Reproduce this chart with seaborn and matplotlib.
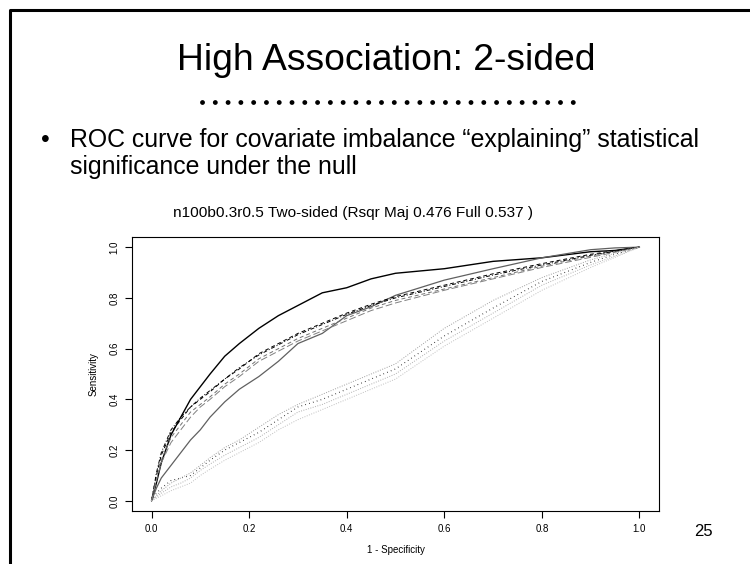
import matplotlib
matplotlib.use("Agg")
import matplotlib.pyplot as plt
import seaborn as sns
from matplotlib.lines import Line2D

# false positive rate grid the curves were read at
fpr = [0, 0.01, 0.02, 0.04, 0.06, 0.08, 0.1, 0.12, 0.15, 0.18, 0.22, 0.26,
       0.3, 0.35, 0.4, 0.45, 0.5, 0.6, 0.7, 0.8, 0.9, 0.95, 1.0]

# solid curves
full_black = [0, 0.07, 0.15, 0.26, 0.33, 0.40, 0.45, 0.50, 0.57, 0.62, 0.68, 0.73,
              0.77, 0.82, 0.84, 0.875, 0.897, 0.915, 0.944, 0.958, 0.982, 0.987, 1.0]
maj_gray = [0, 0.05, 0.09, 0.14, 0.19, 0.24, 0.28, 0.33, 0.39, 0.44, 0.49, 0.55,
            0.62, 0.66, 0.73, 0.765, 0.81, 0.87, 0.915, 0.958, 0.99, 0.997, 1.0]

# dashed / dot-dash curves
dash_black = [0, 0.10, 0.18, 0.27, 0.32, 0.37, 0.40, 0.43, 0.48, 0.52, 0.58, 0.62,
              0.66, 0.70, 0.74, 0.775, 0.805, 0.85, 0.895, 0.935, 0.972, 0.986, 1.0]
dash_gray = [0, 0.09, 0.16, 0.25, 0.30, 0.35, 0.38, 0.41, 0.46, 0.50, 0.56, 0.60,
             0.64, 0.68, 0.72, 0.76, 0.79, 0.835, 0.88, 0.925, 0.965, 0.983, 1.0]
dotdash_black = [0, 0.11, 0.19, 0.28, 0.33, 0.37, 0.405, 0.435, 0.48, 0.525, 0.575, 0.615,
                 0.655, 0.695, 0.735, 0.77, 0.80, 0.845, 0.89, 0.93, 0.968, 0.984, 1.0]
longdash_gray = [0, 0.08, 0.15, 0.23, 0.28, 0.33, 0.37, 0.40, 0.45, 0.49, 0.55, 0.59,
                 0.63, 0.67, 0.71, 0.75, 0.78, 0.83, 0.875, 0.92, 0.96, 0.98, 1.0]

# dotted curves
dot_black = [0, 0.03, 0.05, 0.08, 0.09, 0.10, 0.13, 0.16, 0.20, 0.23, 0.27, 0.32,
             0.37, 0.40, 0.44, 0.48, 0.52, 0.65, 0.76, 0.865, 0.94, 0.972, 1.0]
dot_gray1 = [0, 0.02, 0.04, 0.07, 0.09, 0.11, 0.14, 0.17, 0.21, 0.24, 0.29, 0.34,
             0.38, 0.42, 0.46, 0.50, 0.54, 0.68, 0.79, 0.88, 0.95, 0.976, 1.0]
dot_gray2 = [0, 0.015, 0.03, 0.055, 0.07, 0.09, 0.12, 0.145, 0.18, 0.21, 0.25, 0.30,
             0.35, 0.38, 0.42, 0.46, 0.50, 0.63, 0.74, 0.85, 0.93, 0.965, 1.0]
dot_gray3 = [0, 0.01, 0.02, 0.04, 0.055, 0.07, 0.10, 0.125, 0.16, 0.19, 0.23, 0.28,
             0.32, 0.36, 0.40, 0.44, 0.48, 0.61, 0.72, 0.83, 0.92, 0.96, 1.0]

ticks = [0.0, 0.2, 0.4, 0.6, 0.8, 1.0]
tick_labels = ["0.0", "0.2", "0.4", "0.6", "0.8", "1.0"]

sns.set_style("ticks")
plt.rcParams['font.family'] = ['Liberation Sans', 'DejaVu Sans']
plt.rcParams['text.color'] = 'black'
plt.rcParams['axes.labelcolor'] = 'black'
plt.rcParams['xtick.color'] = 'black'
plt.rcParams['ytick.color'] = 'black'

fig = plt.figure(figsize=(7.5, 5.64), dpi=100)

# slide frame (left and top edges)
fig.add_artist(Line2D([10 / 750, 10 / 750, 1.0], [0.0, 1 - 10 / 564, 1 - 10 / 564],
                      transform=fig.transFigure, color="black", lw=2.2))

# slide title and decorative dots
fig.text(386 / 750, 1 - 70 / 564, "High Association: 2-sided", ha="center",
         va="baseline", fontsize=26.8)
fig.add_artist(Line2D([202 / 750, 579 / 750], [1 - 102 / 564, 1 - 102 / 564],
                      transform=fig.transFigure, color="black", lw=3.5,
                      linestyle=(0, (0.01, 2.62)), dash_capstyle="round"))

# bullet text
fig.text(45 / 750, 1 - 147 / 564, "\u2022", ha="center", va="baseline", fontsize=17.9)
fig.text(70 / 750, 1 - 147 / 564,
         "ROC curve for covariate imbalance \u201cexplaining\u201d statistical",
         ha="left", va="baseline", fontsize=17.9)
fig.text(70 / 750, 1 - 174 / 564, "significance under the null",
         ha="left", va="baseline", fontsize=17.9)

# page number
fig.text(703 / 750, 1 - 536 / 564, "25", ha="center", va="baseline", fontsize=12)

ax = fig.add_axes([132 / 750, 1 - 511 / 564, 527 / 750, 274 / 564])

curves = [
    (full_black, "black", "-", 1.0),
    (maj_gray, "#606060", "-", 0.9),
    (dash_black, "black", (0, (4, 3)), 0.7),
    (dash_gray, "#707070", (0, (4, 3)), 0.7),
    (dotdash_black, "black", (0, (1, 2, 4, 2)), 0.7),
    (longdash_gray, "#808080", (0, (7, 3)), 0.7),
    (dot_black, "black", (0, (0.6, 3)), 0.8),
    (dot_gray1, "#a0a0a0", (0, (1, 1.5)), 0.7),
    (dot_gray2, "#b0b0b0", (0, (1, 1.5)), 0.7),
    (dot_gray3, "#c0c0c0", (0, (1, 1.5)), 0.7),
]
for tpr, col, ls, lw in curves:
    sns.lineplot(x=fpr, y=tpr, ax=ax, color=col, linestyle=ls, lw=lw,
                 sort=False, estimator=None)

ax.set_xlim(-0.04, 1.04)
ax.set_ylim(-0.04, 1.04)
ax.set_xticks(ticks)
ax.set_xticklabels(tick_labels, fontsize=7)
ax.set_yticks(ticks)
ax.set_yticklabels(tick_labels, fontsize=7, rotation=90, va="center")
ax.tick_params(direction="out", length=5, width=0.8, pad=4)
for s in ax.spines.values():
    s.set_linewidth(0.8)
    s.set_color("black")

ax.set_xlabel("1 - Specificity", fontsize=7, labelpad=8.5)
ax.set_ylabel("Sensitivity", fontsize=7, labelpad=8)

# plot title sits left of centre, as in the source image
fig.text(173 / 750, 1 - 217 / 564, "n100b0.3r0.5 Two-sided (Rsqr Maj 0.476 Full 0.537 )",
         ha="left", va="baseline", fontsize=11.1)

fig.savefig("out.png", dpi=100)
